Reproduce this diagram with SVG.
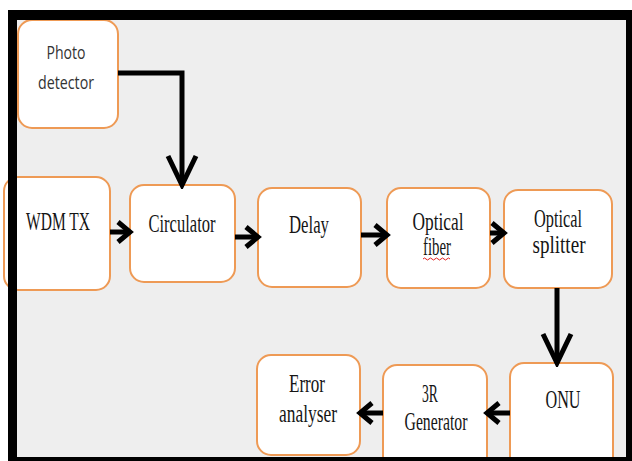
<svg xmlns="http://www.w3.org/2000/svg" width="632" height="461" viewBox="0 0 632 461">
<style>
.node rect{fill:#ffffff;stroke:#ee9a55;stroke-width:2}
.t{font-family:"Liberation Serif","DejaVu Serif","Times New Roman",serif;font-size:25px;fill:#151515;text-anchor:middle}
.s{font-family:"Open Sans","Liberation Sans",sans-serif;font-size:19px;fill:#333;text-anchor:middle}
.c{fill:none;stroke:#000;stroke-width:5}
</style>
<defs>
<marker id="ah" markerUnits="userSpaceOnUse" markerWidth="20" markerHeight="26" refX="15" refY="13" orient="auto" viewBox="0 0 20 26">
<path d="M3,3 L15,13 L3,23" fill="none" stroke="#000" stroke-width="5"/>
</marker>
<marker id="av" markerUnits="userSpaceOnUse" markerWidth="36" markerHeight="36" refX="32" refY="18" orient="auto" viewBox="0 0 36 36">
<path d="M3,4 L32,18 L3,32" fill="none" stroke="#000" stroke-width="5"/>
</marker>
</defs>
<rect x="0" y="0" width="632" height="461" fill="#ffffff"/>
<rect x="17" y="20" width="609" height="437" fill="#eeeeee"/>

<g id="photo-detector" class="node"><rect x="18" y="20" width="100" height="108" rx="14"/>
<text class="s" x="66" y="59" textLength="39" lengthAdjust="spacingAndGlyphs">Photo</text>
<text class="s" x="66" y="89" textLength="56" lengthAdjust="spacingAndGlyphs">detector</text></g>

<g id="wdm-tx" class="node"><rect x="4" y="177" width="106" height="113" rx="14"/>
<text class="t" x="58" y="230" textLength="64" lengthAdjust="spacingAndGlyphs">WDM TX</text></g>

<g id="circulator" class="node"><rect x="130" y="185" width="105" height="97" rx="14"/>
<text class="t" x="182" y="232" textLength="67" lengthAdjust="spacingAndGlyphs">Circulator</text></g>

<g id="delay" class="node"><rect x="258" y="188" width="103" height="99" rx="14"/>
<text class="t" x="309" y="233" textLength="40" lengthAdjust="spacingAndGlyphs">Delay</text></g>

<g id="optical-fiber" class="node"><rect x="387" y="188" width="103" height="100" rx="14"/>
<text class="t" x="438" y="230" textLength="51" lengthAdjust="spacingAndGlyphs">Optical</text>
<text class="t" x="437" y="255" textLength="28" lengthAdjust="spacingAndGlyphs">fiber</text>
<path d="M423,259 q1.5,-2 3,0 t3,0 t3,0 t3,0 t3,0 t3,0 t3,0 t3,0 t3,0" fill="none" stroke="#e02020" stroke-width="1"/></g>

<g id="optical-splitter" class="node"><rect x="504" y="190" width="108" height="98" rx="14"/>
<text class="t" x="558" y="227" textLength="48" lengthAdjust="spacingAndGlyphs">Optical</text>
<text class="t" x="559" y="253" textLength="53" lengthAdjust="spacingAndGlyphs">splitter</text></g>

<g id="onu" class="node"><rect x="510" y="363" width="103" height="110" rx="14"/>
<text class="t" x="563" y="408" textLength="35" lengthAdjust="spacingAndGlyphs">ONU</text></g>

<g id="3r-generator" class="node"><rect x="383" y="365" width="104" height="108" rx="14"/>
<text class="t" x="430" y="402" textLength="16" lengthAdjust="spacingAndGlyphs">3R</text>
<text class="t" x="436" y="430" textLength="63" lengthAdjust="spacingAndGlyphs">Generator</text></g>

<g id="error-analyser" class="node"><rect x="257" y="355" width="103" height="100" rx="14"/>
<text class="t" x="307" y="392" textLength="36" lengthAdjust="spacingAndGlyphs">Error</text>
<text class="t" x="308" y="422" textLength="58" lengthAdjust="spacingAndGlyphs">analyser</text></g>

<g id="connectors">
<path class="c" d="M118,73 H182 V185" marker-end="url(#av)"/>
<path class="c" d="M110,232 H130" marker-end="url(#ah)"/>
<path class="c" d="M235,237 H258" marker-end="url(#ah)"/>
<path class="c" d="M361,235 H387" marker-end="url(#ah)"/>
<path class="c" d="M490,233 H504" marker-end="url(#ah)"/>
<path class="c" d="M557,288 V363" marker-end="url(#av)"/>
<path class="c" d="M510,413 H487" marker-end="url(#ah)"/>
<path class="c" d="M383,413 H360" marker-end="url(#ah)"/>
</g>
<path d="M8,10 H632 V461 H8 Z M17,20 V457 H626 V20 Z" fill="#000" fill-rule="evenodd"/>
</svg>
